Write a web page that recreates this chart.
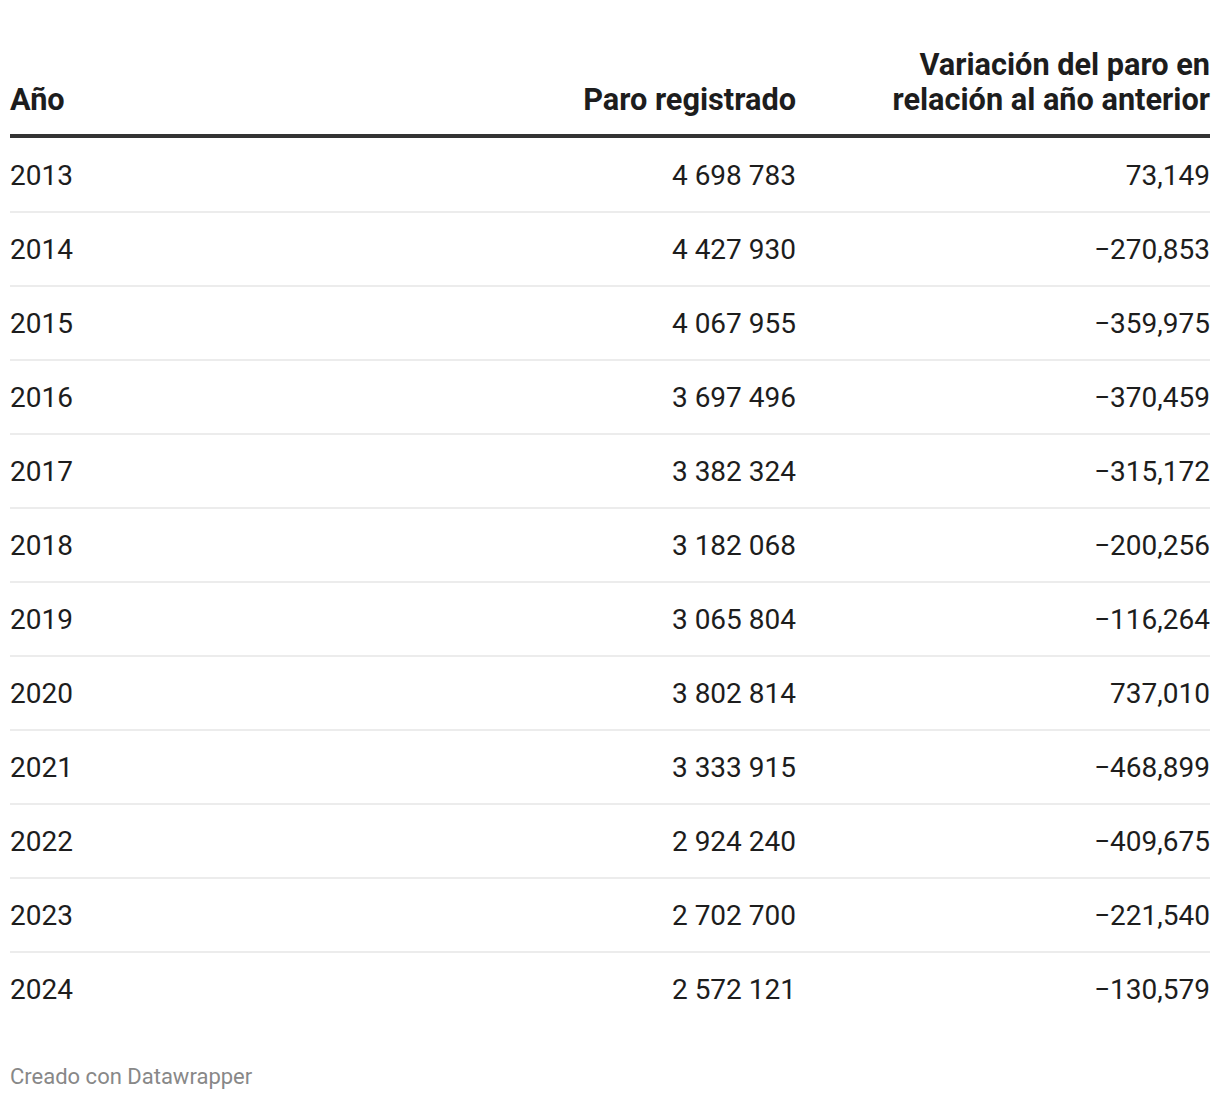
<!DOCTYPE html>
<html>
<head>
<meta charset="utf-8">
<script src="https://cdn.jsdelivr.net/npm/d3@7"></script>
<style>
  body { margin: 0; background: #fff; }
  svg text { font-family: Roboto, sans-serif; }
</style>
</head>
<body>
<div id="table"></div>
<script>
// Table data
const years = ['2013', '2014', '2015', '2016', '2017', '2018', '2019', '2020', '2021', '2022', '2023', '2024'];
const paro = [4698783, 4427930, 4067955, 3697496, 3382324, 3182068, 3065804, 3802814, 3333915, 2924240, 2702700, 2572121];
const variacion = [73149, -270853, -359975, -370459, -315172, -200256, -116264, 737010, -468899, -409675, -221540, -130579];
const headers = [['Año'], ['Paro registrado'], ['Variación del paro en', 'relación al año anterior']];

const width = 1220;
const height = 1100;
const left = 10;
const right = 1210;
const col2Right = 796;
const headerBottom = 138;
const rowH = 74;

const fmtParo = d3.formatLocale({ decimal: ',', thousands: ' ', grouping: [3], minus: '\u2212' }).format(',d');
const fmtVar = d3.formatLocale({ decimal: '.', thousands: ',', grouping: [3], minus: '\u2212' }).format(',d');

const svg = d3
  .select('#table')
  .append('svg')
  .attr('width', width)
  .attr('height', height);

// Row scale
const y = d3
  .scaleBand()
  .domain(years)
  .range([headerBottom, headerBottom + rowH * years.length]);

// Column anchors
const cols = [
  { x: left, anchor: 'start' },
  { x: col2Right, anchor: 'end' },
  { x: right, anchor: 'end' },
];

// Header texts, bottom aligned
headers.forEach((lines, i) => {
  lines.forEach((line, j) => {
    svg
      .append('text')
      .attr('x', cols[i].x)
      .attr('y', 110 - (lines.length - 1 - j) * 35)
      .attr('text-anchor', cols[i].anchor)
      .style('font-size', '30.7px')
      .style('font-weight', 'bold')
      .style('fill', '#1d1d1d')
      .text(line);
  });
});

// Thick header line
svg
  .append('rect')
  .attr('x', left)
  .attr('y', headerBottom - 4)
  .attr('width', right - left)
  .attr('height', 4)
  .style('fill', '#333333');

// Row separators (not after the last row)
svg
  .selectAll('.sep')
  .data(years.slice(0, -1))
  .enter()
  .append('rect')
  .attr('class', 'sep')
  .attr('x', left)
  .attr('y', (d) => y(d) + y.bandwidth() - 1)
  .attr('width', right - left)
  .attr('height', 2)
  .style('fill', '#ececec');

// Cells
const rows = svg
  .selectAll('.row')
  .data(years.map((d, i) => ({ year: d, paro: paro[i], variacion: variacion[i] })))
  .enter()
  .append('g')
  .attr('class', 'row')
  .attr('transform', (d) => 'translate(0,' + (y(d.year) + y.bandwidth() / 2 + 10) + ')');

const cellText = [(d) => d.year, (d) => fmtParo(d.paro), (d) => fmtVar(d.variacion)];

cellText.forEach((fn, i) => {
  rows
    .append('text')
    .attr('x', cols[i].x)
    .attr('text-anchor', cols[i].anchor)
    .style('font-size', '28px')
    .style('fill', '#1d1d1d')
    .text(fn);
});

// Footer
svg
  .append('text')
  .attr('x', left)
  .attr('y', 1084)
  .style('font-size', '22px')
  .style('fill', '#888888')
  .text('Creado con Datawrapper');
</script>
</body>
</html>
